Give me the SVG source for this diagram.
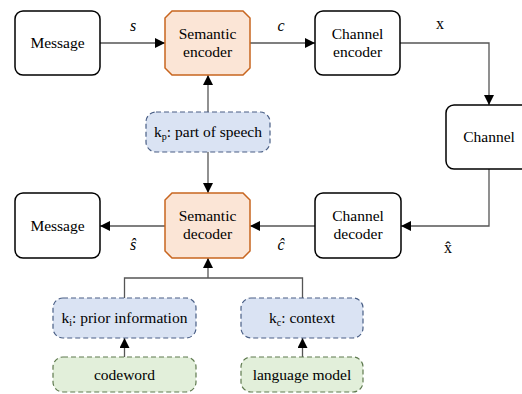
<svg xmlns="http://www.w3.org/2000/svg" width="522" height="394" viewBox="0 0 522 394">
<defs>
<marker id="ah" viewBox="0 0 10 10" refX="10" refY="5" markerWidth="10" markerHeight="10" markerUnits="userSpaceOnUse" orient="auto">
<path d="M0,0 L10,5 L0,10 z" fill="#000"/>
</marker>
<style>
.box{fill:#fff;stroke:#000;stroke-width:1.5}
.sem{fill:#fbe5d6;stroke:#c8651f;stroke-width:1.5}
.kb{fill:#dae3f3;stroke:#4a5f86;stroke-width:1.2;stroke-dasharray:5,3}
.gb{fill:#e2efda;stroke:#5f7a4f;stroke-width:1.2;stroke-dasharray:5,3}
.ln{fill:none;stroke:#555;stroke-width:1.3}
</style>
</defs>
<g id="connectors">
<path class="ln" d="M100,43 H165" marker-end="url(#ah)"/>
<path class="ln" d="M250,43 H315" marker-end="url(#ah)"/>
<path class="ln" d="M400,43 H489 V105" marker-end="url(#ah)"/>
<path class="ln" d="M489,169 V226 H401" marker-end="url(#ah)"/>
<path class="ln" d="M315,226 H250" marker-end="url(#ah)"/>
<path class="ln" d="M165,226 H100" marker-end="url(#ah)"/>
<path class="ln" d="M208,112 V75" marker-end="url(#ah)"/>
<path class="ln" d="M208,152 V193" marker-end="url(#ah)"/>
<path class="ln" d="M124.5,298 V278 H302.5 V298"/>
<path class="ln" d="M208,278 V258" marker-end="url(#ah)"/>
<path class="ln" d="M124.5,357 V338" marker-end="url(#ah)"/>
<path class="ln" d="M302.5,357 V338" marker-end="url(#ah)"/>
<text font-family="Liberation Serif" font-size="16" x="130" y="31" font-style="italic">s</text>
<text font-family="Liberation Serif" font-size="16" x="277.5" y="31" font-style="italic">c</text>
<text font-family="Liberation Serif" font-size="16" x="436" y="29">x</text>
<text font-family="Liberation Serif" font-size="16" x="130" y="250" font-style="italic">ŝ</text>
<text font-family="Liberation Serif" font-size="16" x="277.5" y="250" font-style="italic">ĉ</text>
<text font-family="Liberation Serif" font-size="16" x="444" y="253">x̂</text>
</g>
<g id="message-top">
<rect class="box" x="15" y="11" width="85" height="64" rx="8"/>
<text font-family="Liberation Serif" font-size="15.5" x="30.4" y="48">Message</text>
</g>
<g id="semantic-encoder">
<path class="sem" d="M172,11 H243 L250,18 V68 L243,75 H172 L165,68 V18 z"/>
<text font-family="Liberation Serif" font-size="15.5" x="178.7" y="39">Semantic</text>
<text font-family="Liberation Serif" font-size="15.5" x="183" y="57">encoder</text>
</g>
<g id="channel-encoder">
<rect class="box" x="315" y="11" width="85" height="64" rx="8"/>
<text font-family="Liberation Serif" font-size="15.5" x="331.7" y="39">Channel</text>
<text font-family="Liberation Serif" font-size="15.5" x="333" y="57">encoder</text>
</g>
<g id="channel">
<rect class="box" x="446" y="105" width="86" height="64" rx="8"/>
<text font-family="Liberation Serif" font-size="15.5" x="463.2" y="142">Channel</text>
</g>
<g id="kp">
<rect class="kb" x="146" y="112" width="124" height="40" rx="10"/>
<text font-family="Liberation Serif" font-size="15.5" x="154.1" y="137">k<tspan font-size="10" dy="3">p</tspan><tspan dy="-3">: part of speech</tspan></text>
</g>
<g id="message-bottom">
<rect class="box" x="15" y="193" width="85" height="65" rx="8"/>
<text font-family="Liberation Serif" font-size="15.5" x="30.4" y="231">Message</text>
</g>
<g id="semantic-decoder">
<path class="sem" d="M172,193 H243 L250,200 V251 L243,258 H172 L165,251 V200 z"/>
<text font-family="Liberation Serif" font-size="15.5" x="178.7" y="221">Semantic</text>
<text font-family="Liberation Serif" font-size="15.5" x="183" y="239">decoder</text>
</g>
<g id="channel-decoder">
<rect class="box" x="315" y="193" width="86" height="65" rx="8"/>
<text font-family="Liberation Serif" font-size="15.5" x="332.2" y="221">Channel</text>
<text font-family="Liberation Serif" font-size="15.5" x="333.5" y="239">decoder</text>
</g>
<g id="ki">
<rect class="kb" x="53" y="298" width="143" height="40" rx="10"/>
<text font-family="Liberation Serif" font-size="15.5" x="61.5" y="323">k<tspan font-size="10" dy="3">i</tspan><tspan dy="-3">: prior information</tspan></text>
</g>
<g id="kc">
<rect class="kb" x="241" y="298" width="122" height="40" rx="10"/>
<text font-family="Liberation Serif" font-size="15.5" x="269" y="323">k<tspan font-size="10" dy="3">c</tspan><tspan dy="-3">: context</tspan></text>
</g>
<g id="codeword">
<rect class="gb" x="53" y="357" width="143" height="35" rx="10"/>
<text font-family="Liberation Serif" font-size="15.5" x="93.9" y="380">codeword</text>
</g>
<g id="language-model">
<rect class="gb" x="241" y="357" width="122" height="35" rx="10"/>
<text font-family="Liberation Serif" font-size="15.5" x="252.7" y="380">language model</text>
</g>
</svg>
